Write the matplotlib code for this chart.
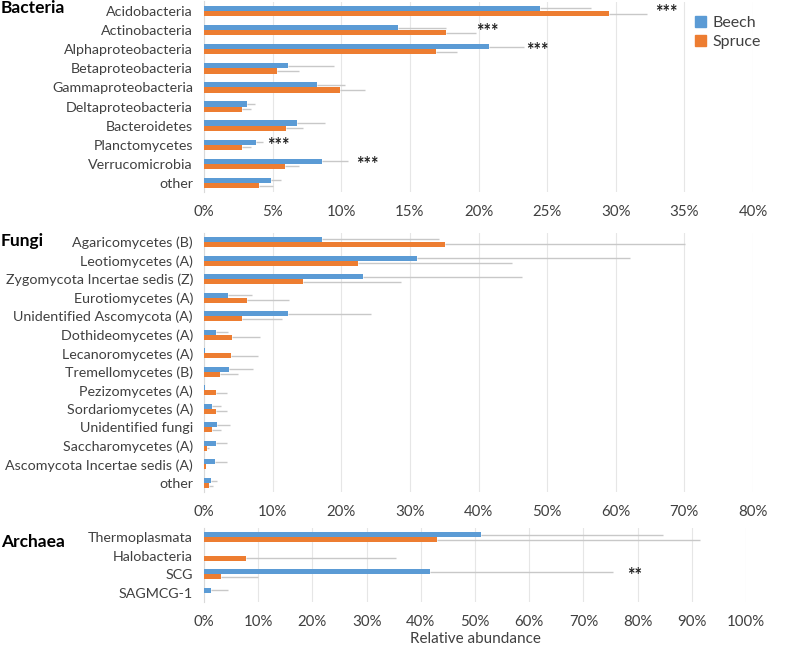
import matplotlib
matplotlib.use("Agg")
import matplotlib.pyplot as plt
from matplotlib.patches import Patch
from matplotlib.ticker import FuncFormatter

plt.rcParams['font.family'] = ['Lato', 'DejaVu Sans']

BEECH = '#5B9BD5'
SPRUCE = '#ED7D31'
TXT = '#404040'

# bacteria
bac_names = ['Acidobacteria', 'Actinobacteria', 'Alphaproteobacteria', 'Betaproteobacteria',
             'Gammaproteobacteria', 'Deltaproteobacteria', 'Bacteroidetes', 'Planctomycetes',
             'Verrucomicrobia', 'other']
bac_beech = [24.5, 14.1, 20.8, 6.1, 8.2, 3.1, 6.8, 3.8, 8.6, 4.9]
bac_spruce = [29.5, 17.6, 16.9, 5.3, 9.9, 2.8, 6.0, 2.8, 5.9, 4.0]
bac_beech_err = [3.7, 3.5, 2.5, 3.4, 2.1, 0.6, 2.0, 0.5, 1.9, 0.7]
bac_spruce_err = [2.8, 2.2, 1.5, 1.6, 1.8, 0.6, 1.2, 0.6, 1.0, 1.0]
bac_stars = [('***', 0, 32.9), ('***', 1, 19.8), ('***', 2, 23.5), ('***', 7, 4.6), ('***', 8, 11.1)]

# fungi
fun_names = ['Agaricomycetes (B)', 'Leotiomycetes (A)', 'Zygomycota Incertae sedis (Z)',
             'Eurotiomycetes (A)', 'Unidentified Ascomycota (A)', 'Dothideomycetes (A)',
             'Lecanoromycetes (A)', 'Tremellomycetes (B)', 'Pezizomycetes (A)',
             'Sordariomycetes (A)', 'Unidentified fungi', 'Saccharomycetes (A)',
             'Ascomycota Incertae sedis (A)', 'other']
fun_beech = [17.2, 31.0, 23.2, 3.5, 12.2, 1.7, 0.1, 3.6, 0.15, 1.2, 1.9, 1.7, 1.6, 1.0]
fun_spruce = [35.1, 22.4, 14.4, 6.3, 5.6, 4.1, 3.9, 2.4, 1.7, 1.7, 1.2, 0.5, 0.3, 0.7]
fun_beech_err = [17.1, 31.1, 23.2, 3.5, 12.2, 1.8, 0.0, 3.5, 0.0, 1.3, 1.9, 1.6, 1.7, 0.9]
fun_spruce_err = [35.0, 22.5, 14.3, 6.1, 5.7, 4.1, 3.9, 2.5, 1.6, 1.6, 1.3, 0.3, 0.0, 0.6]

# archaea
arc_names = ['Thermoplasmata', 'Halobacteria', 'SCG', 'SAGMCG-1']
arc_beech = [51.1, 0.0, 41.7, 1.2]
arc_spruce = [43.0, 7.7, 3.1, 0.0]
arc_beech_err = [33.6, 0.0, 33.8, 3.2]
arc_spruce_err = [48.5, 27.7, 6.8, 0.0]
arc_stars = [('**', 2, 78.0)]

W, H = 787, 648
fig = plt.figure(figsize=(W / 100, H / 100), dpi=100)


def panel(rect, names, beech, spruce, beech_err, spruce_err, xmax, step, title, title_y, stars=()):
    l, t, r, b = rect
    ax = fig.add_axes([l / W, 1 - b / H, (r - l) / W, (b - t) / H])
    y = list(range(len(names)))
    h = 0.27
    ax.barh([v - h / 2 for v in y], beech, height=h, color=BEECH, zorder=3,
            xerr=[[0] * len(y), beech_err], error_kw=dict(ecolor='#c8c8c8', elinewidth=1, capsize=0, zorder=2))
    ax.barh([v + h / 2 for v in y], spruce, height=h, color=SPRUCE, zorder=3,
            xerr=[[0] * len(y), spruce_err], error_kw=dict(ecolor='#c8c8c8', elinewidth=1, capsize=0, zorder=2))
    ax.set_ylim(len(names) - 0.5, -0.5)
    ax.set_xlim(0, xmax)
    ax.set_xticks(range(0, xmax + 1, step))
    ax.xaxis.set_major_formatter(FuncFormatter(lambda v, p: '%d%%' % v))
    ax.set_yticks(y)
    ax.set_yticklabels(names)
    ax.tick_params(axis='y', length=0, pad=8, labelsize=10.3, labelcolor=TXT)
    ax.tick_params(axis='x', length=0, pad=9, labelsize=10.8, labelcolor=TXT)
    ax.grid(axis='x', color='#e6e6e6', lw=0.8, zorder=0)
    for s in ['top', 'right', 'bottom']:
        ax.spines[s].set_visible(False)
    ax.spines['left'].set_color('#d9d9d9')
    for lab, i, xv in stars:
        ax.text(xv, i + 0.05, lab, ha='left', va='center', fontsize=13, fontweight='bold', color='#202020')
    fig.text(1 / W, 1 - title_y / H, title, ha='left', va='center', fontsize=12.5, fontweight='bold', color='black')
    return ax


ax1 = panel((204, 1.5, 753, 192.5), bac_names, bac_beech, bac_spruce, bac_beech_err, bac_spruce_err,
            40, 5, 'Bacteria', 8, bac_stars)
ax1.legend(handles=[Patch(color=BEECH, label='Beech'), Patch(color=SPRUCE, label='Spruce')],
           loc='upper left', bbox_to_anchor=(0.868, 1.0), frameon=False, fontsize=11.5,
           handlelength=0.7, handleheight=0.7, handletextpad=0.4, labelcolor=TXT, labelspacing=0.3)

panel((204, 232.7, 753, 492.3), fun_names, fun_beech, fun_spruce, fun_beech_err, fun_spruce_err,
      80, 10, 'Fungi', 241)

ax3 = panel((204, 527.7, 746, 602.3), arc_names, arc_beech, arc_spruce, arc_beech_err, arc_spruce_err,
            100, 10, 'Archaea', 542, arc_stars)
ax3.set_xlabel('Relative abundance', fontsize=11, color=TXT, labelpad=2)

fig.savefig('out.png', dpi=100)
